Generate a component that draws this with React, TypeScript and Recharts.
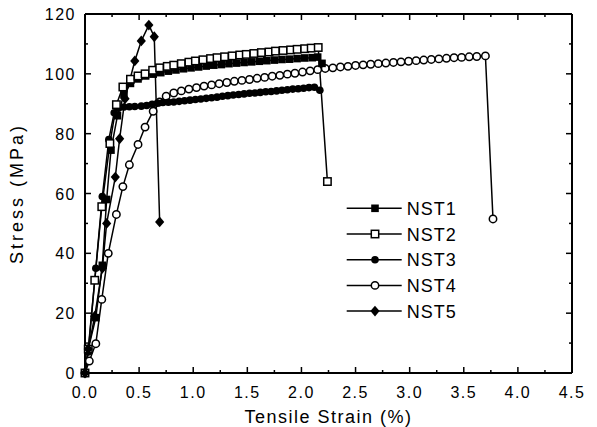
import { LineChart, Line, XAxis, YAxis } from "recharts"

const SERIES_NAMES = ["NST1", "NST2", "NST3", "NST4", "NST5"]
const X_TICKS = [0, 0.25, 0.5, 0.75, 1, 1.25, 1.5, 1.75, 2, 2.25, 2.5, 2.75, 3, 3.25, 3.5, 3.75, 4, 4.25, 4.5]
const Y_TICKS = [0, 10, 20, 30, 40, 50, 60, 70, 80, 90, 100, 110, 120]

// values
const nst1Strain = [0, 0.03, 0.1, 0.16, 0.2, 0.24, 0.3, 0.36, 0.42, 0.49, 0.56, 0.63, 0.7, 0.77, 0.84, 0.91, 0.98, 1.05, 1.12, 1.19, 1.26, 1.33, 1.4, 1.47, 1.54, 1.61, 1.68, 1.75, 1.82, 1.89, 1.96, 2.03, 2.1, 2.15, 2.19]
const nst1Stress = [0, 8, 18.5, 36, 58, 74.5, 86, 93, 96.8, 98.3, 99.3, 99.9, 100.4, 100.9, 101.3, 101.7, 102, 102.3, 102.6, 102.9, 103.1, 103.4, 103.6, 103.8, 104, 104.2, 104.4, 104.6, 104.8, 104.9, 105.1, 105.3, 105.4, 105.6, 103.5]

const nst2Strain = [0, 0.03, 0.09, 0.155, 0.23, 0.29, 0.35, 0.42, 0.49, 0.555, 0.625, 0.69, 0.76, 0.82, 0.89, 0.96, 1.02, 1.09, 1.16, 1.22, 1.29, 1.36, 1.43, 1.49, 1.56, 1.63, 1.7, 1.76, 1.83, 1.9, 1.96, 2.03, 2.09, 2.155, 2.24]
const nst2Stress = [0, 8, 31, 55.6, 76.7, 89.7, 95.6, 98.2, 99.3, 100, 101.2, 102, 102.5, 102.9, 103.4, 103.9, 104.3, 104.7, 105.1, 105.4, 105.7, 106, 106.3, 106.5, 106.8, 107.1, 107.3, 107.6, 107.8, 108, 108.2, 108.4, 108.6, 108.8, 64]

const nst3Strain = [0, 0.03, 0.1, 0.16, 0.22, 0.27, 0.31, 0.36, 0.41, 0.46, 0.52, 0.57, 0.62, 0.67, 0.72, 0.77, 0.82, 0.87, 0.92, 0.97, 1.02, 1.07, 1.12, 1.17, 1.22, 1.27, 1.32, 1.37, 1.42, 1.47, 1.52, 1.57, 1.62, 1.67, 1.72, 1.77, 1.82, 1.87, 1.92, 1.97, 2.02, 2.07, 2.12, 2.17]
const nst3Stress = [0, 7, 35, 59, 78, 87, 88.5, 88.9, 89, 89.1, 89.2, 89.4, 89.8, 90.2, 90.4, 90.5, 90.6, 90.8, 91, 91.2, 91.4, 91.6, 91.8, 92, 92.2, 92.5, 92.7, 92.9, 93.1, 93.3, 93.5, 93.6, 93.8, 94, 94.1, 94.3, 94.5, 94.7, 94.9, 95, 95.2, 95.4, 95.5, 94.5]

const nst4Strain = [0, 0.04, 0.1, 0.155, 0.215, 0.29, 0.35, 0.41, 0.49, 0.555, 0.63, 0.69, 0.75, 0.82, 0.89, 0.96, 1.03, 1.1, 1.17, 1.24, 1.31, 1.38, 1.45, 1.52, 1.59, 1.66, 1.73, 1.8, 1.87, 1.94, 2.01, 2.08, 2.15, 2.22, 2.29, 2.36, 2.43, 2.5, 2.57, 2.64, 2.71, 2.78, 2.85, 2.92, 2.99, 3.06, 3.13, 3.2, 3.27, 3.34, 3.41, 3.48, 3.55, 3.62, 3.7, 3.77]
const nst4Stress = [0, 4, 9.8, 24.6, 40, 53, 62.3, 69.6, 76.4, 82.2, 87.5, 90.6, 92.5, 93.6, 94.3, 94.9, 95.4, 95.9, 96.3, 96.7, 97.1, 97.5, 97.8, 98.1, 98.5, 98.8, 99.2, 99.5, 99.9, 100.2, 100.6, 101, 101.4, 101.8, 102, 102.3, 102.5, 102.8, 103, 103.2, 103.4, 103.6, 103.8, 104, 104.2, 104.4, 104.6, 104.8, 105, 105.2, 105.4, 105.5, 105.7, 105.8, 106, 51.5]

const nst5Strain = [0, 0.03, 0.09, 0.16, 0.2, 0.28, 0.32, 0.37, 0.46, 0.52, 0.59, 0.64, 0.69]
const nst5Stress = [0, 8, 19, 35, 50, 65.5, 78.3, 91.7, 104.3, 111, 116.3, 112.4, 50.5]

const FONT = "'Liberation Sans', Arial, sans-serif"

const zip = (xs: number[], ys: number[]) => xs.map((x, i) => ({ x, y: ys[i] }))

const series = [
  { name: "NST1", kind: "filledSquare", data: zip(nst1Strain, nst1Stress) },
  { name: "NST2", kind: "openSquare", data: zip(nst2Strain, nst2Stress) },
  { name: "NST3", kind: "filledCircle", data: zip(nst3Strain, nst3Stress) },
  { name: "NST4", kind: "openCircle", data: zip(nst4Strain, nst4Stress) },
  { name: "NST5", kind: "diamond", data: zip(nst5Strain, nst5Stress) },
]

// draw order so the open markers sit on top of the filled bands
const drawOrder = ["NST4", "NST3", "NST1", "NST2", "NST5"]

function Marker({ kind, cx, cy }: { kind: string; cx: number; cy: number }) {
  if (cx == null || cy == null) return null
  switch (kind) {
    case "filledSquare":
      return <rect x={cx - 3.8} y={cy - 3.8} width={7.6} height={7.6} fill="#000" />
    case "openSquare":
      return <rect x={cx - 3.7} y={cy - 3.7} width={7.4} height={7.4} fill="#fff" stroke="#000" strokeWidth={1.5} />
    case "filledCircle":
      return <circle cx={cx} cy={cy} r={3.8} fill="#000" />
    case "openCircle":
      return <circle cx={cx} cy={cy} r={3.7} fill="#fff" stroke="#000" strokeWidth={1.5} />
    default:
      return <polygon points={`${cx},${cy - 5.4} ${cx + 4.6},${cy} ${cx},${cy + 5.4} ${cx - 4.6},${cy}`} fill="#000" />
  }
}

const isMajor = (v: number, step: number) => Math.abs(v / step - Math.round(v / step)) < 1e-6

function BottomTick(props: any) {
  const { x, y, payload } = props
  const v = payload.value
  const major = isMajor(v, 0.5)
  return (
    <g>
      <line x1={x} x2={x} y1={y} y2={y - (major ? 6 : 3)} stroke="#000" strokeWidth={1.5} />
      {major && (
        <text x={x} y={y + 25} textAnchor="middle" fontSize={16} letterSpacing={1.5} fontFamily={FONT} fill="#000">
          {v.toFixed(1)}
        </text>
      )}
    </g>
  )
}

function TopTick(props: any) {
  const { x, y, payload } = props
  const major = isMajor(payload.value, 0.5)
  return <line x1={x} x2={x} y1={y} y2={y + (major ? 6 : 3)} stroke="#000" strokeWidth={1.5} />
}

function LeftTick(props: any) {
  const { x, y, payload } = props
  const v = payload.value
  const major = isMajor(v, 20)
  return (
    <g>
      <line x1={x} x2={x + (major ? 6 : 3)} y1={y} y2={y} stroke="#000" strokeWidth={1.5} />
      {major && (
        <text x={x - 9} y={y + 6} textAnchor="end" fontSize={16} letterSpacing={1.5} fontFamily={FONT} fill="#000">
          {v}
        </text>
      )}
    </g>
  )
}

function RightTick(props: any) {
  const { x, y, payload } = props
  const major = isMajor(payload.value, 20)
  return <line x1={x} x2={x - (major ? 6 : 3)} y1={y} y2={y} stroke="#000" strokeWidth={1.5} />
}

function ChartLegend() {
  return (
    <svg width={597} height={427} style={{ position: "absolute", left: 0, top: 0, pointerEvents: "none" }}>
      {SERIES_NAMES.map((name, i) => {
        const s = series.find((d) => d.name === name)!
        const cy = 208.3 + i * 25.7
        return (
          <g key={name}>
            <line x1={346.7} x2={401.7} y1={cy} y2={cy} stroke="#000" strokeWidth={1.5} />
            <Marker kind={s.kind} cx={375} cy={cy} />
            <text x={406.7} y={cy + 6.5} fontSize={18} letterSpacing={1} fontFamily={FONT} fill="#000">
              {name}
            </text>
          </g>
        )
      })}
    </svg>
  )
}

export default function App() {
  return (
    <div style={{ position: "relative", width: 597, height: 427, margin: "-8px 0 0 -8px" }}>
      <LineChart width={597} height={427} margin={{ top: 13, right: 24, bottom: 0, left: 0 }}>
        <XAxis
          type="number"
          dataKey="x"
          domain={[0, 4.5]}
          ticks={X_TICKS}
          interval={0}
          height={54}
          tickSize={0}
          tickMargin={0}
          tickLine={false}
          axisLine={{ stroke: "#000", strokeWidth: 2 }}
          tick={<BottomTick />}
          label={(p: any) => {
            const vb = p.viewBox || { x: 85, y: 373, width: 487, height: 54 }
            return (
              <text x={vb.x + vb.width / 2} y={vb.y + 50} textAnchor="middle" fontSize={18} letterSpacing={1.5} fontFamily={FONT} fill="#000">
                Tensile Strain (%)
              </text>
            )
          }}
        />
        <XAxis
          xAxisId="top"
          orientation="top"
          type="number"
          dataKey="x"
          domain={[0, 4.5]}
          ticks={X_TICKS}
          interval={0}
          height={1}
          tickSize={0}
          tickMargin={0}
          tickLine={false}
          axisLine={{ stroke: "#000", strokeWidth: 2 }}
          tick={<TopTick />}
        />
        <YAxis
          type="number"
          domain={[0, 120]}
          ticks={Y_TICKS}
          interval={0}
          width={85}
          tickSize={0}
          tickMargin={0}
          tickLine={false}
          axisLine={{ stroke: "#000", strokeWidth: 2 }}
          tick={<LeftTick />}
          label={(p: any) => {
            const vb = p.viewBox || { x: 0, y: 14, width: 85, height: 359 }
            const cx = vb.x + 23
            const cy = vb.y + vb.height / 2
            return (
              <text x={cx} y={cy} transform={`rotate(-90 ${cx} ${cy})`} textAnchor="middle" fontSize={18} letterSpacing={3} fontFamily={FONT} fill="#000">
                Stress (MPa)
              </text>
            )
          }}
        />
        <YAxis
          yAxisId="right"
          orientation="right"
          type="number"
          domain={[0, 120]}
          ticks={Y_TICKS}
          interval={0}
          width={1}
          tickSize={0}
          tickMargin={0}
          tickLine={false}
          axisLine={{ stroke: "#000", strokeWidth: 2 }}
          tick={<RightTick />}
        />
        {drawOrder.map((name) => {
          const s = series.find((d) => d.name === name)!
          // NST5 is bound to the mirrored top/right axes (same domain and range) so they get drawn
          const mirrored = name === "NST5"
          return (
            <Line
              key={name}
              name={name}
              data={s.data}
              dataKey="y"
              type="linear"
              xAxisId={mirrored ? "top" : 0}
              yAxisId={mirrored ? "right" : 0}
              stroke="#000"
              strokeWidth={1.5}
              isAnimationActive={false}
              activeDot={false}
              dot={(p: any) => <Marker key={`${name}-${p.index}`} kind={s.kind} cx={p.cx} cy={p.cy} />}
            />
          )
        })}
      </LineChart>
      <ChartLegend />
    </div>
  )
}
